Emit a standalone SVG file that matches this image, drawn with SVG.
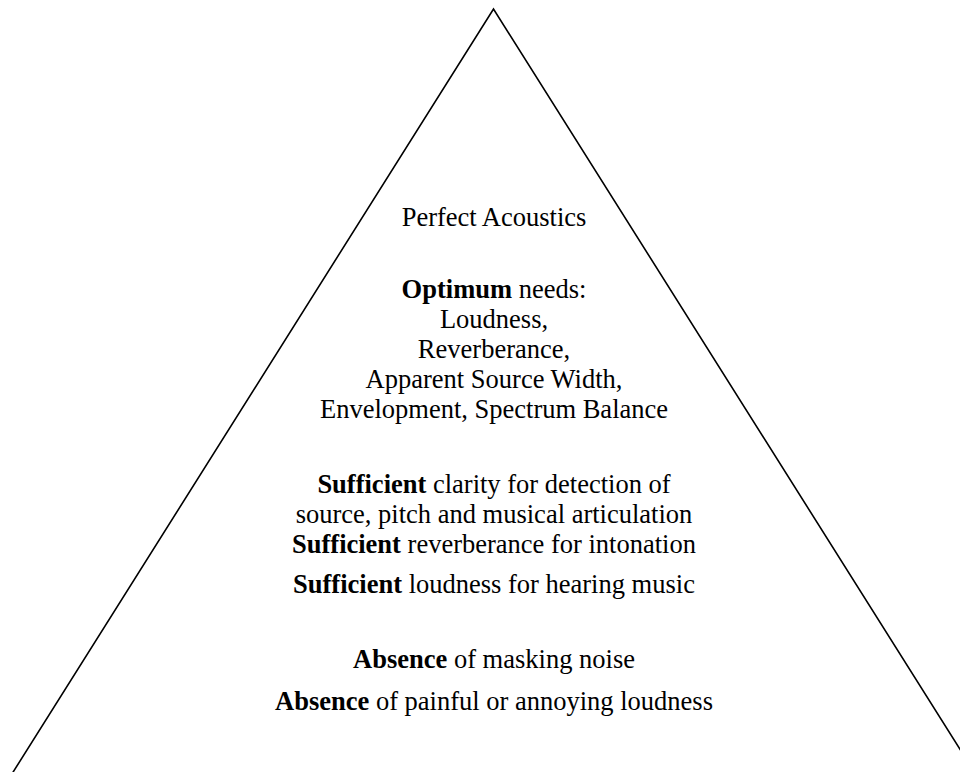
<svg xmlns="http://www.w3.org/2000/svg" width="960" height="772" viewBox="0 0 960 772">
<style>
.t{font-family:"Liberation Serif","Times New Roman",serif;font-size:26.5px;fill:#000;text-anchor:middle}
.b{font-weight:bold}
.edge{fill:none;stroke:#000;stroke-width:1.6}
</style>
<rect width="960" height="772" fill="#fff"/>
<g id="connectors">
<path class="edge" d="M12.5,773 L493.5,9 L975,773"/>
</g>
<g id="top">
<text class="t" x="494" y="226">Perfect Acoustics</text>
</g>
<g id="optimum">
<text class="t" x="494" y="298"><tspan class="b">Optimum</tspan> needs:</text>
<text class="t" x="494" y="328">Loudness,</text>
<text class="t" x="494" y="358">Reverberance,</text>
<text class="t" x="494" y="388">Apparent Source Width,</text>
<text class="t" x="494" y="418">Envelopment, Spectrum Balance</text>
</g>
<g id="sufficient">
<text class="t" x="494" y="493"><tspan class="b">Sufficient</tspan> clarity for detection of</text>
<text class="t" x="494" y="523">source, pitch and musical articulation</text>
<text class="t" x="494" y="553"><tspan class="b">Sufficient</tspan> reverberance for intonation</text>
<text class="t" x="494" y="593"><tspan class="b">Sufficient</tspan> loudness for hearing music</text>
</g>
<g id="absence">
<text class="t" x="494" y="668"><tspan class="b">Absence</tspan> of masking noise</text>
<text class="t" x="494" y="710"><tspan class="b">Absence</tspan> of painful or annoying loudness</text>
</g>
</svg>
